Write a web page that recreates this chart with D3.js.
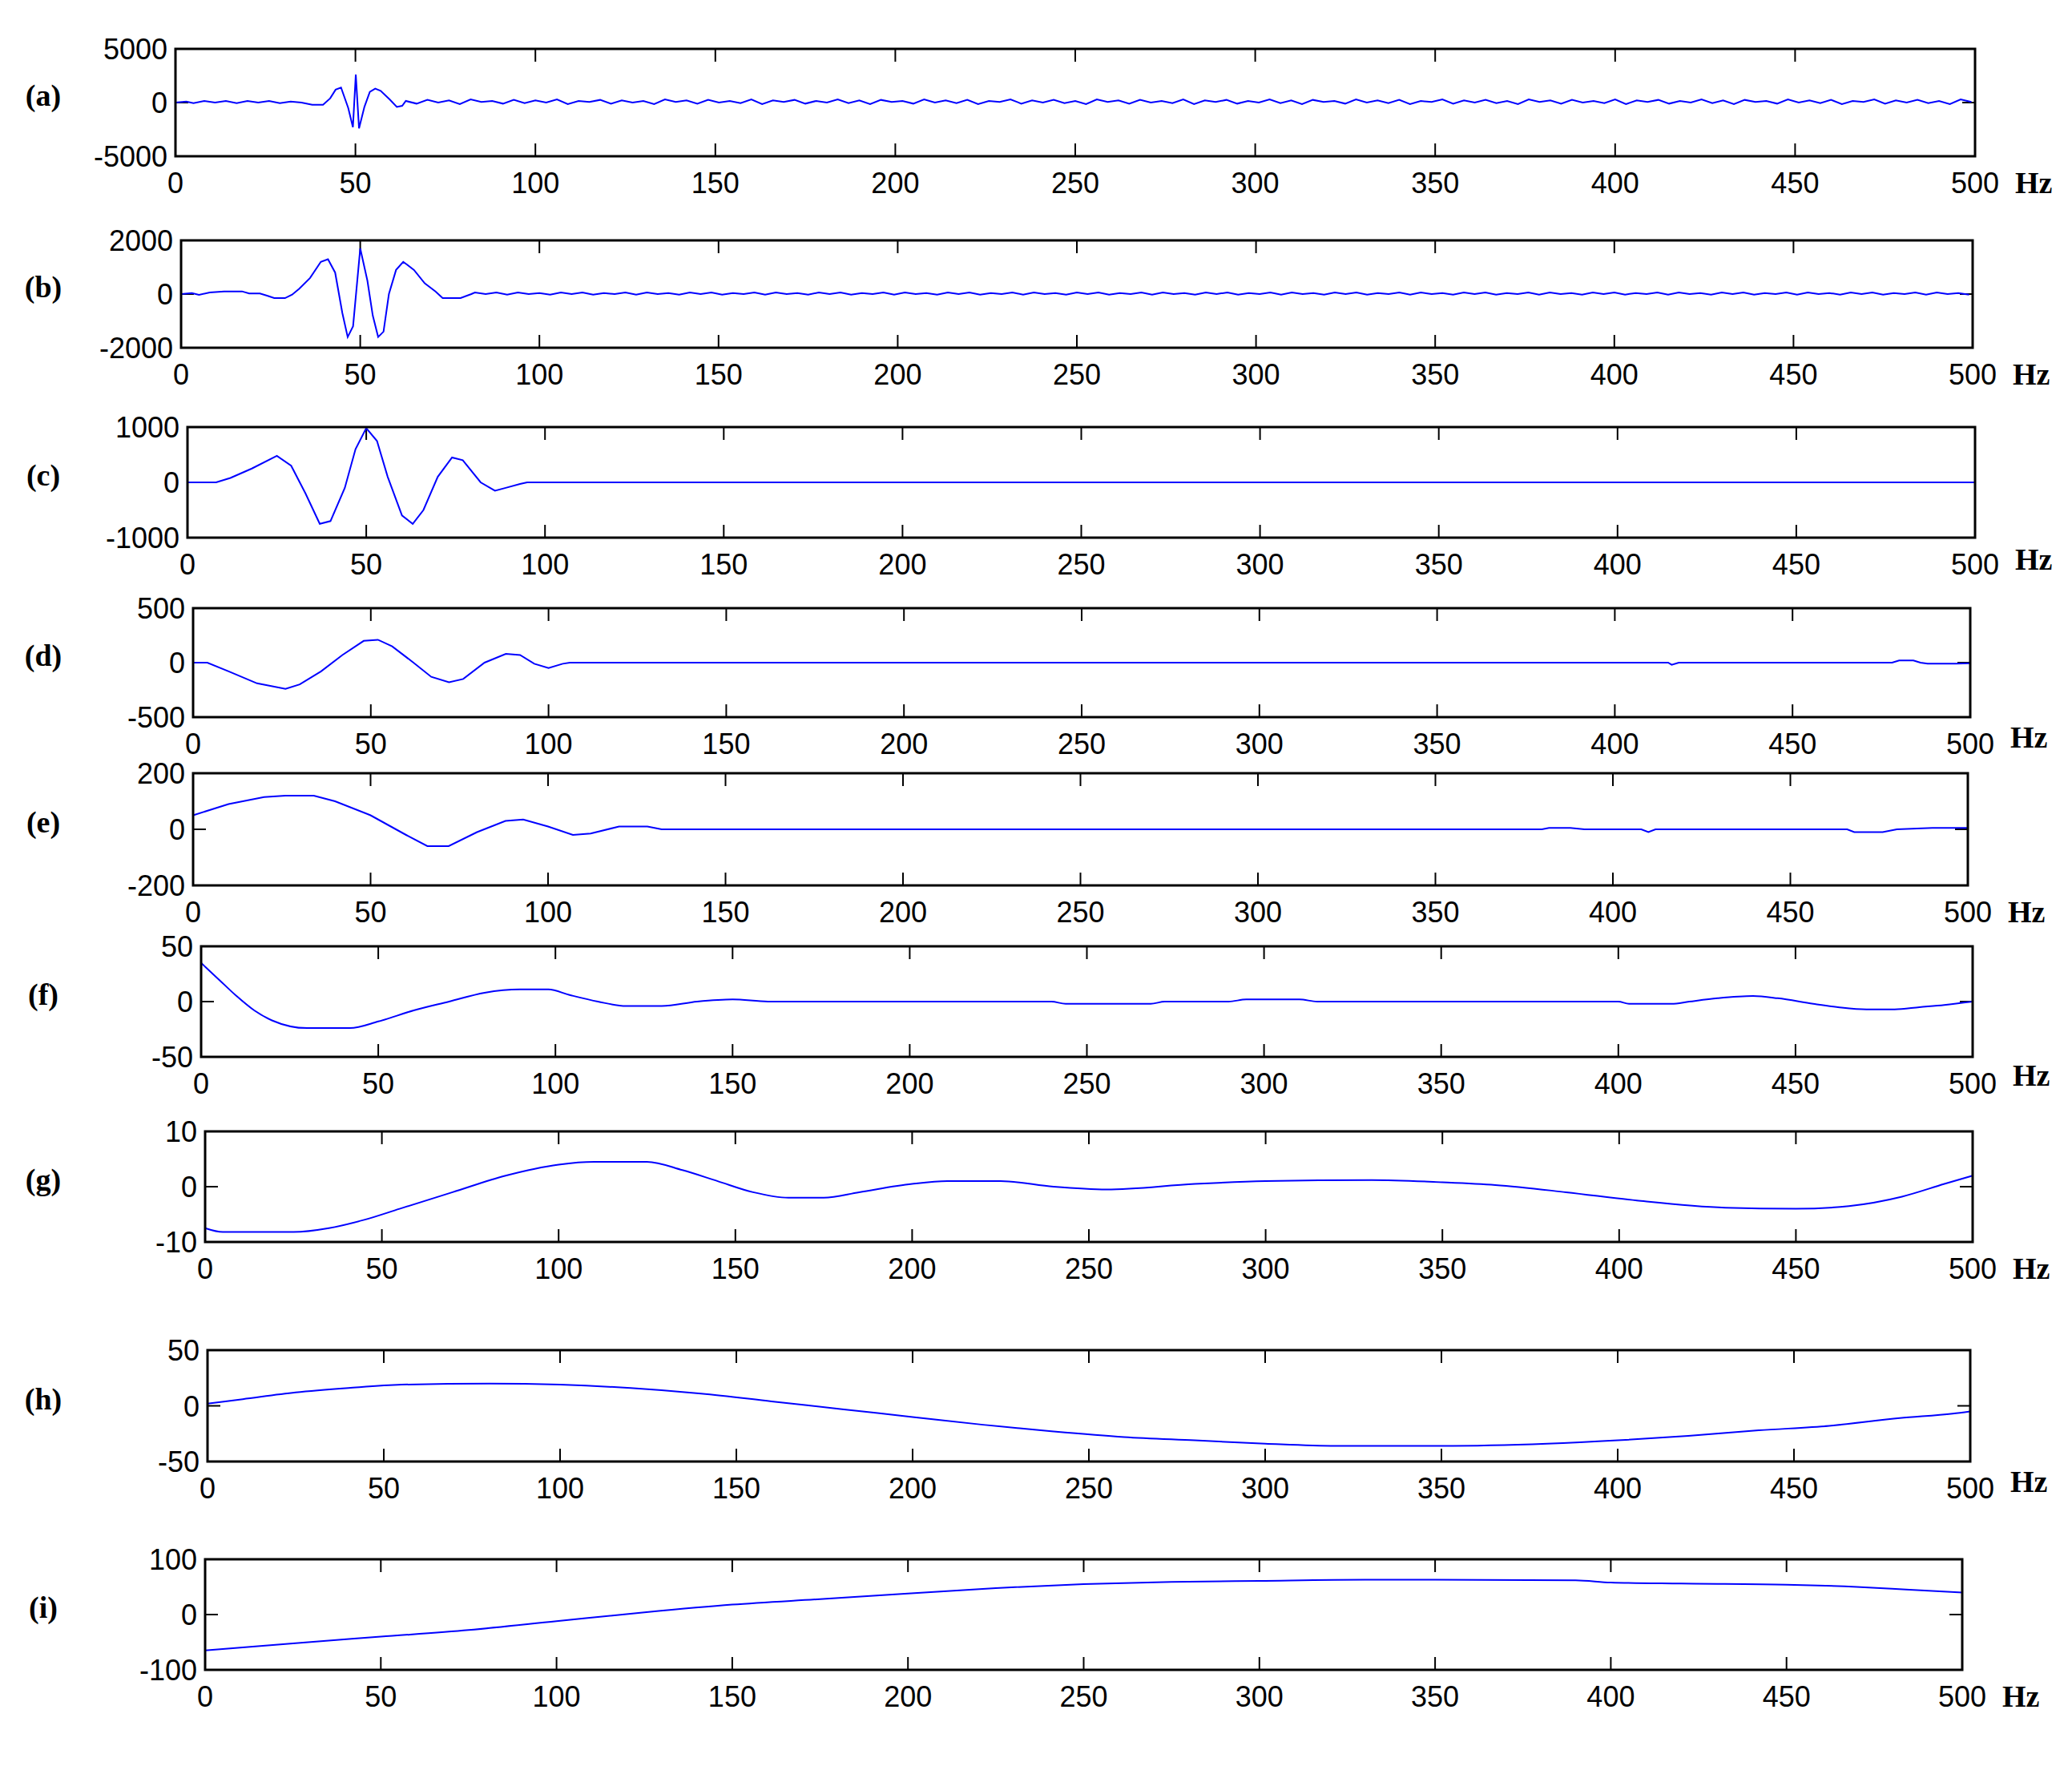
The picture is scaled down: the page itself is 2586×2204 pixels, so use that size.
<!DOCTYPE html>
<html><head><meta charset="utf-8">
<script src="https://cdn.jsdelivr.net/npm/d3@7"></script>
<style>body{margin:0;background:#fff}</style></head>
<body><svg id="c" width="2586" height="2204"></svg>
<script>
const labels=["(a)","(b)","(c)","(d)","(e)","(f)","(g)","(h)","(i)"];
const xTicks=[0,50,100,150,200,250,300,350,400,450,500];
const yLims=[5000,2000,1000,500,200,50,10,50,100];
// key points [Hz, value]
const sA=[[0,0],[3,100],[5,-50],[8,150],[11,0],[14,150],[17,-50],[20,150],[23,0],[26,150],[29,-50],[32,100],[35,0],[38,-200],[41,-200],[43,400],[44.5,1200],[46,1400],[48,-500],[49.3,-2300],[50.1,2600],[51,-2400],[52.5,-400],[54,1000],[55.5,1300],[57,1100],[59.5,300],[61.5,-400],[63,-300]];
const rippleA=[150,-100,250,0,200,-150,300,50,150,-100,250,-50,200,0,300,-150,150,50,250,-100,200,0,150,-150,300,50,200,-100,250,0,150,-50,300,-150,200,50,250,-100,150,0,300,-50,200,-150,250,50,150,-100,300,0,200,-50,250,-150,150,50,300,-100,200,0,250,-50,150,-150,300,50,200,-100,250,0,150,-50,300,-150,200,50,250,-100,150,0,300,-50,200,-150,250,50,150,-100,300,0,200,-50,250,-150,150,50,300,-100,200,0,250,-50,150,-150,300,50,200,-100,250,0,150,-50,300,-150,200,50,250,-100,150,0,300,-50,200,-150,250,50,150,-100,300,0,200,-50,250,-150,150,50,300,-100,200,0,250,-50,150,-150,300,50,200,-100,250];
const sB=[[0,0],[3,40],[5,-30],[8,60],[12,100],[17,100],[19,20],[22,20],[24,-60],[26,-150],[29,-150],[31,-20],[33,200],[36,600],[39,1200],[41,1300],[43,800],[45,-700],[46.5,-1600],[48,-1200],[50,1700],[52,500],[53.5,-800],[55,-1600],[56.5,-1400],[58,0],[60,900],[62,1200],[65,900],[68,400],[71,100],[73,-150],[78,-150],[81,0]];
const rippleB=[60,0,60,-20,60,0,40,-20,60,0,60,-20,40,0,60,-20,60,0,40,-20,60,0,60,-20,40,0,60,-20,60,0,40,-20,60,0,60,-20,40,0,60,-20,60,0,40,-20,60,0,60,-20,40,0,60,-20,60,0,40,-20,60,0,60,-20,40,0,60,-20,60,0,40,-20,60,0,60,-20,40,0,60,-20,60,0,40,-20,60,0,60,-20,40,0,60,-20,60,0,40,-20,60,0,60,-20,40,0,60,-20,60,0,40,-20,60,0,60,-20,40,0,60,-20,60,0,40,-20,60,0,60,-20,40,0,60,-20,60,0,40,-20,60,0,60,-20,40,0,60,-20,60,0,40,-20,60,0,0];
const sC=[[0,0],[8,0],[12,80],[18,250],[25,480],[29,300],[33,-200],[37,-750],[40,-700],[44,-100],[47,600],[50,980],[53,750],[56,100],[60,-600],[63,-750],[66,-500],[70,100],[74,450],[77,400],[82,0],[86,-150],[89,-100],[93,-30],[95,0],[500,0]];
const sD=[[0,0],[4,0],[10,-80],[18,-190],[26,-240],[30,-200],[36,-80],[42,70],[48,200],[52,210],[56,150],[62,0],[67,-130],[72,-180],[76,-150],[82,0],[88,80],[92,70],[96,-10],[100,-50],[104,-10],[106,0],[415,0],[416,-20],[418,0],[478,0],[480,20],[484,20],[486,0],[488,-10],[496,-10],[500,-5]];
const sE=[[0,50],[10,90],[20,115],[26,120],[34,120],[40,100],[50,50],[60,-20],[66,-60],[72,-60],[80,-10],[88,30],[93,35],[100,10],[107,-20],[112,-15],[120,10],[128,10],[132,0],[380,0],[382,5],[388,5],[392,0],[408,0],[410,-10],[412,0],[466,0],[468,-10],[476,-10],[480,0],[490,5],[500,5]];
const sF=[[0,35],[5,20],[10,5],[15,-8],[20,-17],[30,-24],[42,-24],[50,-18],[60,-8],[70,0],[80,8],[90,11],[98,11],[104,6],[112,0],[120,-4],[130,-4],[140,0],[150,2],[160,0],[240,0],[244,-2],[268,-2],[272,0],[290,0],[295,2],[310,2],[315,0],[400,0],[403,-2],[415,-2],[420,0],[428,3],[438,5],[445,3],[455,-2],[462,-5],[470,-7],[478,-7],[485,-5],[492,-3],[500,0]];
const sG=[[0,-7.5],[5,-8.2],[25,-8.2],[35,-7.5],[45,-6],[55,-4],[70,-1],[85,2],[100,4],[110,4.5],[125,4.5],[135,3],[145,1],[155,-1],[165,-2],[175,-2],[185,-1],[200,0.5],[210,1],[225,1],[240,0],[255,-0.5],[280,0.5],[300,1],[330,1.2],[350,0.8],[365,0.3],[385,-1],[405,-2.5],[430,-3.8],[450,-4],[465,-3.5],[480,-1.8],[492,0.5],[500,2]];
const sH=[[0,2],[10,6],[25,12],[40,16],[55,19],[80,20],[100,19],[120,16],[140,11],[160,4],[180,-3],[200,-10],[220,-17],[240,-23],[260,-28],[280,-31],[300,-34],[320,-36],[350,-36],[380,-34],[400,-31],[420,-27],[440,-22],[460,-18],[480,-11],[495,-7],[500,-5]];
const sI=[[0,-65],[25,-52],[50,-40],[75,-28],[100,-12],[125,4],[150,18],[175,28],[200,38],[225,48],[250,55],[275,59],[300,61],[330,63],[350,63],[390,62],[400,58],[420,56],[450,54],[470,50],[485,45],[500,40]];
const rippleAStart=64, rippleBStart=82, rippleStep=3;

function withRipple(base,rip,start){
  const out=base.slice();
  rip.forEach((v,i)=>{const x=start+i*rippleStep; if(x<=500) out.push([x,v]);});
  return out;
}
const series=[withRipple(sA,rippleA,rippleAStart),withRipple(sB,rippleB,rippleBStart),sC,sD,sE,sF,sG,sH,sI];
const boxes=[[219,2465,61,195],[226,2462,300,434],[234,2465,533,671],[241,2459,759,895],[241,2456,965,1105],[251,2462,1181,1319],[256,2462,1412,1550],[259,2459,1685,1824],[256,2449,1946,2084]];
const hzDy=[0,0,-6,-8,0,-10,0,-8,0];
const svg=d3.select("#c");
series.forEach((data,k)=>{
  const [L,R,T,B]=boxes[k];
  const x=d3.scaleLinear().domain([0,500]).range([L,R]);
  const y=d3.scaleLinear().domain([-yLims[k],yLims[k]]).range([B,T]);
  const g=svg.append("g");
  const tl=16;
  xTicks.forEach(t=>{
    g.append("line").attr("x1",x(t)).attr("x2",x(t)).attr("y1",B).attr("y2",B-tl).attr("stroke","#000").attr("stroke-width",2);
    g.append("line").attr("x1",x(t)).attr("x2",x(t)).attr("y1",T).attr("y2",T+tl).attr("stroke","#000").attr("stroke-width",2);
    g.append("text").attr("x",x(t)).attr("y",B+46).attr("text-anchor","middle")
      .attr("font-family","Liberation Sans, Arial").attr("font-size",36).text(t);
  });
  [-yLims[k],0,yLims[k]].forEach(v=>{
    g.append("line").attr("x1",L).attr("x2",L+tl).attr("y1",y(v)).attr("y2",y(v)).attr("stroke","#000").attr("stroke-width",2);
    g.append("line").attr("x1",R).attr("x2",R-tl).attr("y1",y(v)).attr("y2",y(v)).attr("stroke","#000").attr("stroke-width",2);
    g.append("text").attr("x",L-10).attr("y",y(v)+13).attr("text-anchor","end")
      .attr("font-family","Liberation Sans, Arial").attr("font-size",36).text(v);
  });
  g.append("path").datum(data).attr("fill","none").attr("stroke","#0000ff").attr("stroke-width",2)
    .attr("d",d3.line().x(d=>x(d[0])).y(d=>y(d[1])).curve(k>=5?d3.curveMonotoneX:d3.curveLinear));
  g.append("rect").attr("x",L).attr("y",T).attr("width",R-L).attr("height",B-T).attr("fill","none").attr("stroke","#000").attr("stroke-width",3);
  g.append("text").attr("x",R+50).attr("y",B+46+hzDy[k]).attr("font-family","Liberation Serif, Times New Roman").attr("font-weight","bold").attr("font-size",38).text("Hz");
  g.append("text").attr("x",54).attr("y",(T+B)/2+4).attr("text-anchor","middle").attr("font-family","Liberation Serif, Times New Roman").attr("font-weight","bold").attr("font-size",38).text(labels[k]);
});
</script></body></html>
